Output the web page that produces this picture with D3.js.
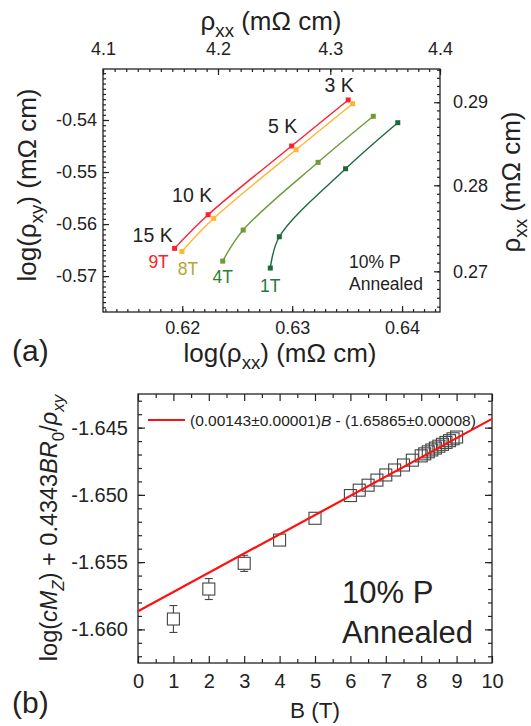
<!DOCTYPE html>
<html>
<head>
<meta charset="utf-8">
<script src="https://cdn.jsdelivr.net/npm/d3@7"></script>
<style>
  body { margin: 0; background: #fff; }
  text { font-family: "Liberation Sans", Arial, sans-serif; fill: #222; }
</style>
</head>
<body>
<div id="plot"></div>
<script>
// ---------- data, panel (a) ----------
const fields = ['9T', '8T', '4T', '1T'];
const temps = ['3 K', '5 K', '10 K', '15 K'];
const logRxx9T = [0.63510, 0.62995, 0.62235, 0.61930];
const logRxy9T = [-0.53615, -0.54500, -0.55821, -0.56467];
const logRxx8T = [0.63550, 0.63035, 0.62286, 0.61997];
const logRxy8T = [-0.53687, -0.54571, -0.55890, -0.56525];
const logRxx4T = [0.63738, 0.63236, 0.62554, 0.62368];
const logRxy4T = [-0.53929, -0.54813, -0.56115, -0.56712];
const logRxx1T = [0.63961, 0.63486, 0.62883, 0.62801];
const logRxy1T = [-0.54052, -0.54937, -0.56244, -0.56846];
const topTicks = [4.1, 4.2, 4.3, 4.4];
const bottomTicks = [0.62, 0.63, 0.64];
const leftTicks = [-0.54, -0.55, -0.56, -0.57];
const rightTicks = [0.27, 0.28, 0.29];

// ---------- data, panel (b) ----------
const bField = [1, 2, 3, 4, 5, 6, 6.25, 6.5, 6.75, 7, 7.25, 7.5, 7.75, 8,
  8.1, 8.2, 8.3, 8.4, 8.5, 8.6, 8.7, 8.8, 8.9, 9];
const bValue = [-1.65923, -1.65700, -1.65509, -1.65336, -1.65174, -1.65005,
  -1.64965, -1.64928, -1.64890, -1.64852, -1.64815, -1.64778, -1.64742,
  -1.64710, -1.64695, -1.64680, -1.64666, -1.64652, -1.64638, -1.64624,
  -1.64610, -1.64597, -1.64583, -1.64570];
const bError = [0.00100, 0.00078, 0.00060, 0.00030, 0.00020, 0.00015,
  0.00012, 0.00012, 0.00012, 0.00012, 0.00010, 0.00010, 0.00010, 0.00010,
  0.00010, 0.00010, 0.00010, 0.00010, 0.00010, 0.00010, 0.00010, 0.00010,
  0.00010, 0.00010];
const fitSlope = 0.00143, fitIntercept = -1.65865;
const fitRange = [0, 10];
const bxTicks = d3.range(0, 11, 1);
const byTicks = [-1.645, -1.650, -1.655, -1.660];

const width = 531, height = 726;
const font = '"Liberation Sans", Arial, sans-serif';

const svg = d3.select('#plot')
  .append('svg')
  .attr('width', width)
  .attr('height', height);

// helper: text with subscripts / italics
function richText(g, parts, size) {
  const t = g.append('text').attr('font-size', size);
  let shifted = 0;
  parts.forEach(p => {
    const s = t.append('tspan').text(p.t);
    if (p.i) s.attr('font-style', 'italic');
    if (p.sub) {
      s.attr('font-size', size * 0.72).attr('dy', size * 0.28 - shifted);
      shifted = size * 0.28;
    } else if (shifted) {
      s.attr('dy', -shifted);
      shifted = 0;
    }
  });
  return t;
}

function styleAxis(g, size) {
  g.attr('font-size', size).attr('font-family', font);
  g.select('.domain').remove();
  g.selectAll('line').attr('stroke', '#222').attr('stroke-width', 1.2);
  g.selectAll('text').attr('fill', '#222');
}

// ================= panel (a) =================
const A = { left: 103, right: 440, top: 69, bottom: 312 };
const xA = d3.scaleLinear().domain([Math.log10(4.1), Math.log10(4.4)]).range([A.left, A.right]);
const xTopA = d3.scaleLog().domain([4.1, 4.4]).range([A.left, A.right]);
const yA = d3.scaleLinear().domain([-0.5769, -0.5302]).range([A.bottom, A.top]);
const yRightA = d3.scaleLog().domain([0.2654, 0.2941]).range([A.bottom, A.top]);

const pa = svg.append('g');
const minorStep = (a, b, s) => d3.range(Math.ceil(a / s - 1e-9), Math.floor(b / s + 1e-9) + 1).map(k => +(k * s).toFixed(6));

// bottom
pa.append('g').attr('transform', `translate(0,${A.bottom})`)
  .call(d3.axisBottom(xA).tickValues(minorStep(0.6128, 0.6435, 0.001)).tickSize(-3).tickFormat(''))
  .call(g => styleAxis(g, 18));
pa.append('g').attr('transform', `translate(0,${A.bottom})`)
  .call(d3.axisBottom(xA).tickValues(bottomTicks).tickSize(-6).tickPadding(9).tickFormat(d3.format('.2f')))
  .call(g => styleAxis(g, 18));
// top
pa.append('g').attr('transform', `translate(0,${A.top})`)
  .call(d3.axisTop(xTopA).tickValues(minorStep(4.1, 4.4, 0.01)).tickSize(-3).tickFormat(''))
  .call(g => styleAxis(g, 18));
pa.append('g').attr('transform', `translate(0,${A.top})`)
  .call(d3.axisTop(xTopA).tickValues(topTicks).tickSize(-6).tickPadding(14).tickFormat(d3.format('.1f')))
  .call(g => styleAxis(g, 18));
// left
pa.append('g').attr('transform', `translate(${A.left},0)`)
  .call(d3.axisLeft(yA).tickValues(minorStep(-0.5769, -0.5302, 0.001)).tickSize(-3).tickFormat(''))
  .call(g => styleAxis(g, 18));
pa.append('g').attr('transform', `translate(${A.left},0)`)
  .call(d3.axisLeft(yA).tickValues(leftTicks).tickSize(-6).tickPadding(6).tickFormat(d3.format('.2f')))
  .call(g => styleAxis(g, 18));
pa.selectAll('text').filter(function () { return this.textContent.startsWith('−'); })
  .text(function () { return this.textContent.replace('−', '-'); });
// right
pa.append('g').attr('transform', `translate(${A.right},0)`)
  .call(d3.axisRight(yRightA).tickValues(minorStep(0.2654, 0.2941, 0.001)).tickSize(-3).tickFormat(''))
  .call(g => styleAxis(g, 18));
pa.append('g').attr('transform', `translate(${A.right},0)`)
  .call(d3.axisRight(yRightA).tickValues(rightTicks).tickSize(-6).tickPadding(13).tickFormat(d3.format('.2f')))
  .call(g => styleAxis(g, 18));

pa.append('rect')
  .attr('x', A.left).attr('y', A.top)
  .attr('width', A.right - A.left).attr('height', A.bottom - A.top)
  .attr('fill', 'none').attr('stroke', '#222').attr('stroke-width', 1.3);

// series
const seriesA = [
  { name: '9T', x: logRxx9T, y: logRxy9T, color: '#ff1f2f', label: '#ff2020', dx: -16, dy: 20 },
  { name: '8T', x: logRxx8T, y: logRxy8T, color: '#ffb52e', label: '#b8a72e', dx: 6, dy: 24 },
  { name: '4T', x: logRxx4T, y: logRxy4T, color: '#6f9a38', label: '#2f7f2c', dx: 0, dy: 22 },
  { name: '1T', x: logRxx1T, y: logRxy1T, color: '#1c6a3c', label: '#23793a', dx: 0, dy: 24 }
];
const lineA = d3.line().x(d => xA(d[0])).y(d => yA(d[1])).curve(d3.curveCatmullRom.alpha(0.5));

seriesA.forEach(s => {
  const pts = s.x.map((v, i) => [v, s.y[i]]);
  pa.append('path').datum(pts)
    .attr('d', lineA).attr('fill', 'none')
    .attr('stroke', s.color).attr('stroke-width', 1.4);
  pa.selectAll(null).data(pts).join('rect')
    .attr('x', d => xA(d[0]) - 2.5).attr('y', d => yA(d[1]) - 2.5)
    .attr('width', 5).attr('height', 5)
    .attr('fill', s.color);
  const last = pts[pts.length - 1];
  pa.append('text')
    .attr('x', xA(last[0]) + s.dx).attr('y', yA(last[1]) + s.dy)
    .attr('text-anchor', 'middle').attr('font-size', 17.5)
    .style('fill', s.label).text(s.name);
});

// temperature labels next to the 9T points
const tempOffsets = [[-9, -8], [-9, -13], [-16, -13], [-22, -6]];
temps.forEach((t, i) => {
  pa.append('text')
    .attr('x', xA(logRxx9T[i]) + tempOffsets[i][0])
    .attr('y', yA(logRxy9T[i]) + tempOffsets[i][1])
    .attr('text-anchor', 'middle').attr('font-size', 19.5)
    .text(t);
});

pa.append('text').attr('x', 349).attr('y', 268).attr('font-size', 17.5).text('10% P');
pa.append('text').attr('x', 349).attr('y', 290).attr('font-size', 17.5).text('Annealed');

// axis titles (a)
richText(pa, [{ t: 'ρ' }, { t: 'xx', sub: true }, { t: ' (mΩ cm)' }], 26)
  .attr('x', 271).attr('y', 30).attr('text-anchor', 'middle');
richText(pa, [{ t: 'log(ρ' }, { t: 'xx', sub: true }, { t: ') (mΩ cm)' }], 26)
  .attr('x', 280).attr('y', 362).attr('text-anchor', 'middle');
richText(pa, [{ t: 'log(ρ' }, { t: 'xy', sub: true }, { t: ') (mΩ cm)' }], 26)
  .attr('text-anchor', 'middle').attr('transform', 'translate(36,185) rotate(-90)');
richText(pa, [{ t: 'ρ' }, { t: 'xx', sub: true }, { t: ' (mΩ cm)' }], 26)
  .attr('text-anchor', 'middle').attr('transform', 'translate(520,182) rotate(-90)');
pa.append('text').attr('x', 12).attr('y', 361).attr('font-size', 30).text('(a)');

// ================= panel (b) =================
const B = { left: 138, right: 492, top: 394, bottom: 663 };
const xB = d3.scaleLinear().domain([0, 10]).range([B.left, B.right]);
const yB = d3.scaleLinear().domain([-1.6625, -1.6425]).range([B.bottom, B.top]);
const pb = svg.append('g');

[[`translate(0,${B.bottom})`, d3.axisBottom], [`translate(0,${B.top})`, d3.axisTop]].forEach(([tr, ax], k) => {
  pb.append('g').attr('transform', tr)
    .call(ax(xB).tickValues(d3.range(0.5, 10, 1)).tickSize(-4).tickFormat(''))
    .call(g => styleAxis(g, 20));
  pb.append('g').attr('transform', tr)
    .call(ax(xB).tickValues(bxTicks).tickSize(-7).tickPadding(11).tickFormat(k === 0 ? d3.format('d') : ''))
    .call(g => styleAxis(g, 20));
});
[[`translate(${B.left},0)`, d3.axisLeft], [`translate(${B.right},0)`, d3.axisRight]].forEach(([tr, ax], k) => {
  pb.append('g').attr('transform', tr)
    .call(ax(yB).tickValues(minorStep(-1.6625, -1.6425, 0.001)).tickSize(-4).tickFormat(''))
    .call(g => styleAxis(g, 20));
  pb.append('g').attr('transform', tr)
    .call(ax(yB).tickValues(byTicks).tickSize(-7).tickPadding(10).tickFormat(k === 0 ? d3.format('.3f') : ''))
    .call(g => styleAxis(g, 20));
});
pb.selectAll('text').filter(function () { return this.textContent.startsWith('−'); })
  .text(function () { return this.textContent.replace('−', '-'); });

pb.append('rect')
  .attr('x', B.left).attr('y', B.top)
  .attr('width', B.right - B.left).attr('height', B.bottom - B.top)
  .attr('fill', 'none').attr('stroke', '#222').attr('stroke-width', 1.3);

// points with error bars
const ptsB = bField.map((b, i) => ({ b, v: bValue[i], e: bError[i] }));
const half = 6;
const gPts = pb.append('g').attr('stroke', '#444').attr('stroke-width', 1.1).attr('fill', 'none');
ptsB.forEach(d => {
  const cx = xB(d.b), cy = yB(d.v);
  const up = yB(d.v + d.e), dn = yB(d.v - d.e);
  if (cy - up > half) {
    gPts.append('line').attr('x1', cx).attr('x2', cx).attr('y1', up).attr('y2', cy - half);
    gPts.append('line').attr('x1', cx - 4).attr('x2', cx + 4).attr('y1', up).attr('y2', up);
    gPts.append('line').attr('x1', cx).attr('x2', cx).attr('y1', cy + half).attr('y2', dn);
    gPts.append('line').attr('x1', cx - 4).attr('x2', cx + 4).attr('y1', dn).attr('y2', dn);
  }
  gPts.append('rect')
    .attr('x', cx - half).attr('y', cy - half)
    .attr('width', 2 * half).attr('height', 2 * half);
});

// fit line
pb.append('line')
  .attr('x1', xB(fitRange[0])).attr('y1', yB(fitSlope * fitRange[0] + fitIntercept))
  .attr('x2', xB(fitRange[1])).attr('y2', yB(fitSlope * fitRange[1] + fitIntercept))
  .attr('stroke', '#ff1010').attr('stroke-width', 2.2);

// legend
pb.append('line').attr('x1', 148).attr('x2', 185).attr('y1', 420).attr('y2', 420)
  .attr('stroke', '#ff1010').attr('stroke-width', 2.2);
richText(pb, [{ t: '(0.00143±0.00001)' }, { t: 'B', i: true }, { t: ' - (1.65865±0.00008)' }], 15.5)
  .attr('x', 190).attr('y', 425.5);

pb.append('text').attr('x', 342).attr('y', 603).attr('font-size', 31).text('10% P');
pb.append('text').attr('x', 342).attr('y', 643).attr('font-size', 31).text('Annealed');

// axis titles (b)
richText(pb, [{ t: 'B (T)' }], 22.5).attr('x', 315).attr('y', 718).attr('text-anchor', 'middle');
richText(pb, [{ t: 'log(' }, { t: 'cM', i: true }, { t: 'Z', sub: true, i: true }, { t: ') + 0.4343' },
  { t: 'BR', i: true }, { t: '0', sub: true }, { t: '/' }, { t: 'ρ', i: true }, { t: 'xy', sub: true, i: true }], 23.5)
  .attr('text-anchor', 'middle').attr('transform', 'translate(57,528) rotate(-90)');
pb.append('text').attr('x', 12).attr('y', 713).attr('font-size', 30).text('(b)');
</script>
</body>
</html>
